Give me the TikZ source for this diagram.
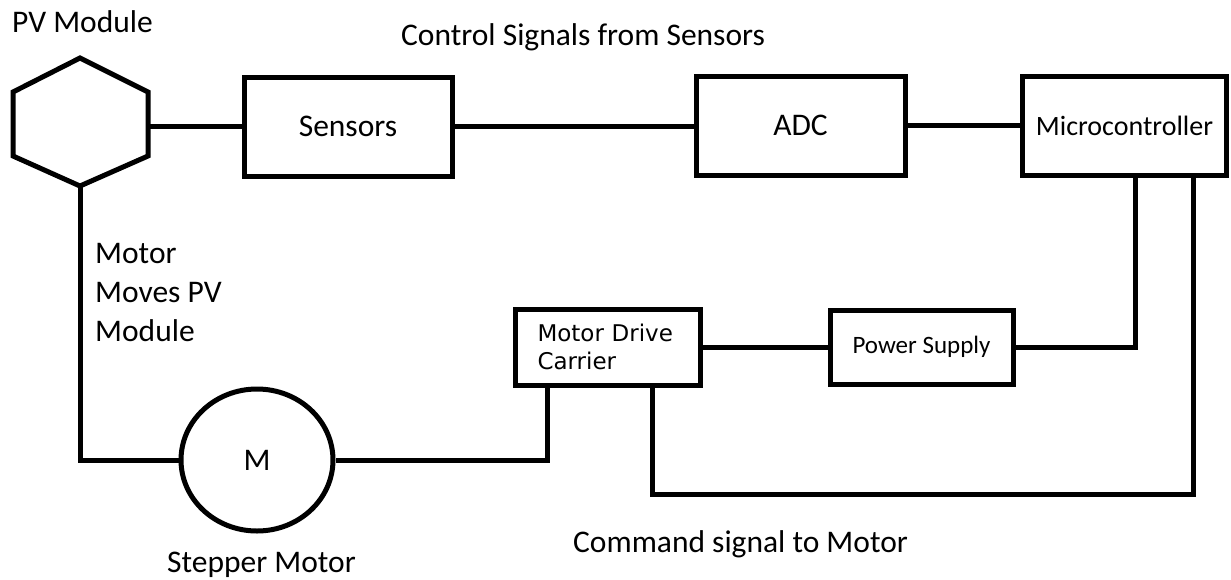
\documentclass[tikz,border=0pt]{standalone}
\usepackage{fontspec}
\setmainfont{Carlito}
\newfontfamily\mdcfont{DejaVu Sans}
\usetikzlibrary{shapes.geometric}

\begin{document}
\begin{tikzpicture}[x=1pt,y=-1pt,line join=miter,
  wire/.style={line width=5pt},
  box/.style={draw,line width=5pt,inner sep=0pt,font=\fontsize{31.5}{38}\selectfont},
  lbl/.style={inner sep=0pt,font=\fontsize{31.5}{39}\selectfont}]
\useasboundingbox (0,0) rectangle (1231,579);

\draw[wire] (80,58) -- (148,92) -- (148,156) -- (80,186) -- (13,156) -- (13,92) -- cycle;
\coordinate (pvE) at (148,126.5);
\coordinate (pvS) at (80,186);

\node[box,minimum width=208pt,minimum height=99pt] (sensors) at (348,126.5) {Sensors};
\node[box,minimum width=209pt,minimum height=99pt] (adc) at (800.5,125.5) {ADC};
\node[box,minimum width=204pt,minimum height=99pt,font=\fontsize{28}{34}\selectfont] (micro) at (1124.5,125.5) {Microcontroller};
\node[box,minimum width=183pt,minimum height=74pt,font=\fontsize{25}{30}\selectfont] (psu) at (921.5,347) {Power Supply};
\node[box,minimum height=76pt,inner xsep=22.5pt,text width=140pt,align=left,font=\mdcfont\fontsize{23}{28}\selectfont] (mdc) at (607.5,347) {Motor Drive\\Carrier};
\node[draw,ellipse,line width=5pt,minimum width=152pt,minimum height=142pt,inner sep=0pt,font=\fontsize{31.5}{38}\selectfont] (motor) at (257,460) {M};

\coordinate (tapA) at (1135,0);
\coordinate (tapB) at (547,0);
\coordinate (tapC) at (652,0);
\coordinate (cmd) at (1193,494);

\draw[wire] (pvE) -- (sensors.west);
\draw[wire] (sensors.east) -- (sensors.east -| adc.west);
\draw[wire] (adc.east) -- (micro.west);
\draw[wire] (micro.south -| tapA) |- (psu.east);
\draw[wire] (mdc.east) -- (mdc.east -| psu.west);
\draw[wire] (mdc.south -| tapB) |- (motor.east);
\draw[wire] (motor.west) -| (pvS);
\draw[wire] (mdc.south -| tapC) |- (cmd) -- (micro.south -| cmd);

\node[lbl,anchor=base west] (pvlbl) at (12,32) {PV Module};
\node[lbl,anchor=base west] (ctrllbl) at (401,45) {Control Signals from Sensors};
\node[lbl,anchor=north west,align=left] (movelbl) at (95,243) {Motor\\Moves PV\\Module};
\node[lbl,anchor=base west] (steplbl) at (167,572) {Stepper Motor};
\node[lbl,anchor=base west] (cmdlbl) at (573,552) {Command signal to Motor};
\end{tikzpicture}
\end{document}
